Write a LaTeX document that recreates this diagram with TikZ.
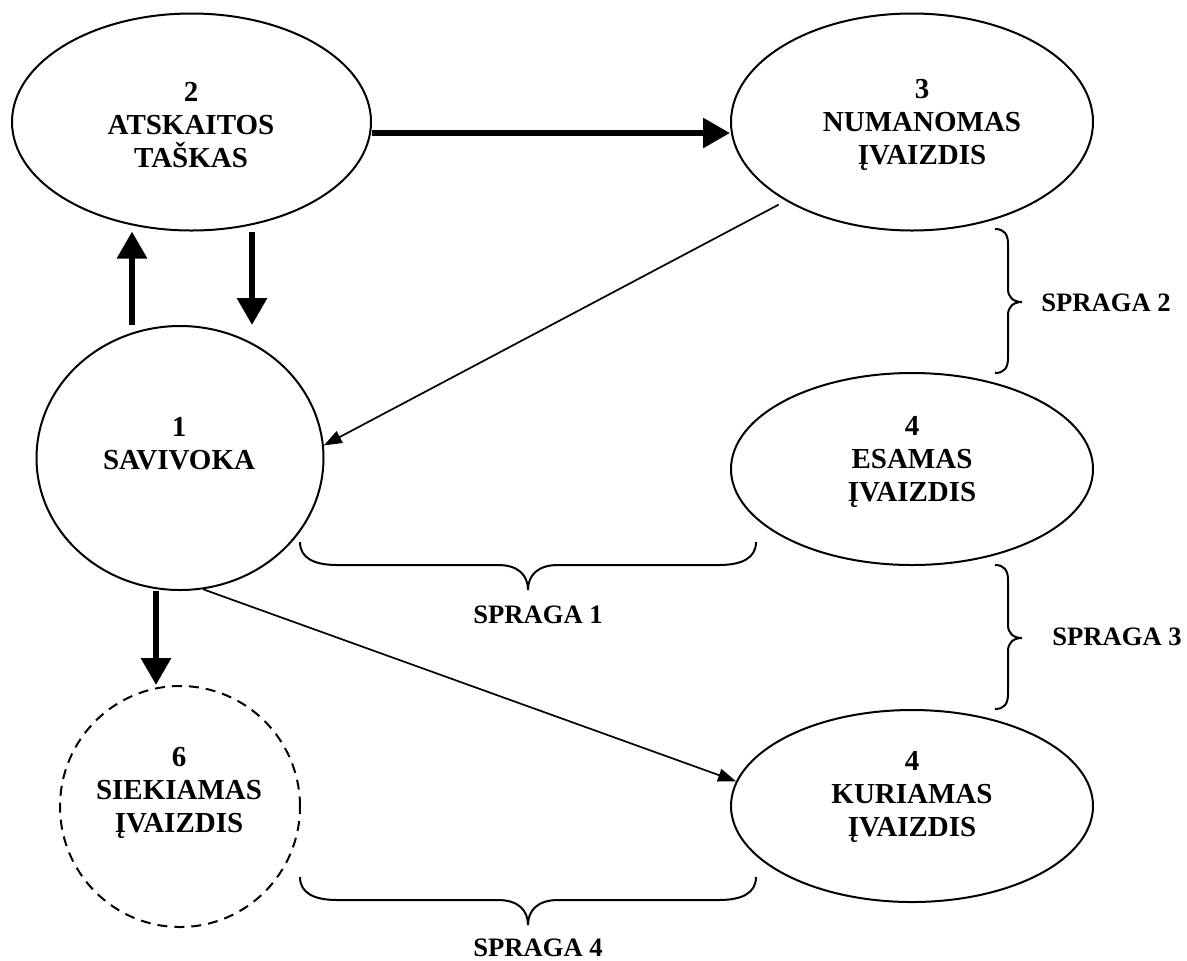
\documentclass[tikz,border=0pt]{standalone}
\usepackage{fontspec}
\setmainfont{Liberation Serif}
\usetikzlibrary{arrows.meta,shapes.geometric}
\begin{document}
\begin{tikzpicture}[x=0.5pt,y=-0.5pt,
  oval/.style={draw, line width=1pt, ellipse, inner sep=0pt},
  txt/.style={font=\bfseries\fontsize{14.5}{16.5}\selectfont, align=center, inner sep=0pt},
  gap/.style={font=\bfseries\fontsize{13.3}{15}\selectfont, inner sep=0pt},
  thickarrow/.style={line width=3pt, -{Triangle[length=13.5pt,width=14.5pt]}},
  thinarrow/.style={line width=0.85pt, -{Triangle[length=9pt,width=6.5pt]}},
  bracel/.style={draw, line width=1pt},
  hbr/.pic={\draw[bracel] (0,0) .. controls (0,16) and (14,23) .. (37,23) -- (198,23)
      .. controls (218,23) and (228,33) .. (228,48)
      .. controls (228,33) and (238,23) .. (258,23) -- (419,23)
      .. controls (442,23) and (456,16) .. (456,0);},
  vbr/.pic={\draw[bracel] (0,0) .. controls (9,0) and (13,5) .. (13,15) -- (13,60)
      .. controls (13,68) and (18,73) .. (27,73)
      .. controls (18,73) and (13,78) .. (13,86) -- (13,129)
      .. controls (13,139) and (9,144) .. (0,144);}
]
\useasboundingbox (0,0) rectangle (1187,960);

% shapes
\node[oval, minimum width=179.5pt, minimum height=108.5pt] (n2) at (191.5,122) {};
\node[oval, minimum width=181pt, minimum height=108.5pt] (n3) at (912,122) {};
\node[oval, minimum width=143.5pt, minimum height=132pt] (n1) at (180,458) {};
\node[oval, minimum width=181pt, minimum height=96pt] (n4e) at (912,469) {};
\node[oval, minimum width=181pt, minimum height=96pt] (n4k) at (912,806) {};
\node[oval, dash pattern=on 5pt off 3.5pt, minimum width=120pt, minimum height=120.5pt] (n6) at (180,806.5) {};

% texts
\node[txt] (t2) at (191,125) {2\\ATSKAITOS\\TAŠKAS};
\node[txt] (t3) at (922,125) {3\\NUMANOMAS\\ĮVAIZDIS};
\node[txt] (t1) at (179,444) {1\\SAVIVOKA};
\node[txt] (t4e) at (912,462) {4\\ESAMAS\\ĮVAIZDIS};
\node[txt] (t4k) at (912,797) {4\\KURIAMAS\\ĮVAIZDIS};
\node[txt] (t6) at (179,793) {6\\SIEKIAMAS\\ĮVAIZDIS};

% connector guides
\coordinate (hA) at (0,133);
\coordinate (vU) at (132,0);
\coordinate (vD) at (252,0);
\coordinate (vS) at (156,0);

\draw[thickarrow] (n2.east |- hA) -- (n3.west |- hA);
\draw[thickarrow] (n1.north -| vU) -- (n2.south -| vU);
\draw[thickarrow] (n2.south -| vD) -- (n1.north -| vD);
\draw[thickarrow] (n1.south -| vS) -- (n6.north -| vS);
\draw[thinarrow, shorten <=4pt] (n3.212) -- (n1.5);
\draw[thinarrow] (n1.280) -- (n4k.172);

% braces
\pic at (300,542) {hbr};
\pic at (300,877) {hbr};
\pic at (995,229) {vbr};
\pic at (995,565) {vbr};

% gap labels
\node[gap] (s1) at (538,615) {SPRAGA 1};
\node[gap] (s2) at (1106,303) {SPRAGA 2};
\node[gap] (s3) at (1117,637) {SPRAGA 3};
\node[gap] (s4) at (538,948) {SPRAGA 4};
\end{tikzpicture}
\end{document}
